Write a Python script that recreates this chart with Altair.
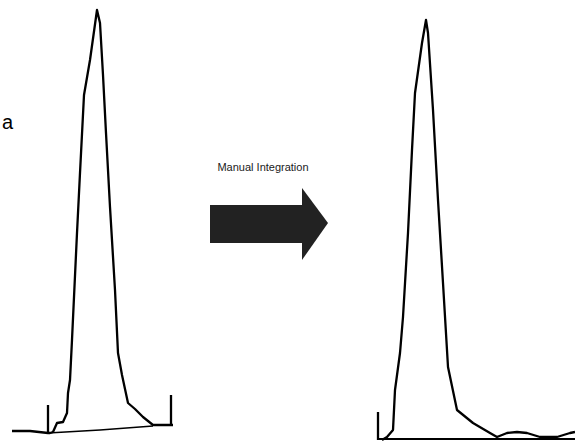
import altair as alt
import pandas as pd

W, H = 575, 441

# Left chromatogram (time, signal); signal = 441 - pixel row
left_time = [12, 30, 48, 50, 53, 57, 63, 67, 68, 70, 72, 77, 80, 84, 90, 97, 100, 103, 106, 110, 115, 118, 122, 128, 135, 143, 153, 173]
left_signal = [10, 10, 8, 8, 9, 18, 19, 28, 48, 61, 101, 208, 268, 346, 381, 431, 418, 366, 308, 234, 151, 88, 66, 38, 32, 24, 16, 16]
left_base_time = [48, 100, 153]
left_base_signal = [8, 11, 15]
left_tick_time = [48, 171]
left_tick_low = [8, 16]
left_tick_high = [36, 46]

# Right chromatogram
right_time = [382, 387, 393, 395, 400, 403, 408, 412, 415, 422, 426, 428, 433, 438, 443, 448, 457, 473, 490, 497, 507, 517, 527, 540, 557, 570, 575]
right_signal = [1, 4, 11, 51, 88, 124, 208, 291, 348, 398, 421, 408, 331, 241, 158, 74, 31, 18, 8, 4, 8, 9, 8, 4, 4, 8, 9]
right_base_time = [378, 575]
right_base_signal = [2, 2]
right_tick_time = [378]
right_tick_low = [1]
right_tick_high = [29]

# Arrow: body rectangle and triangular head
arrow_body_x = [210]
arrow_body_x2 = [302]
arrow_body_lo = [198]
arrow_body_hi = [236]
arrow_head_x = [302, 328]
arrow_head_lo = [181, 218]
arrow_head_hi = [253, 218]

label_text = ["a", "Manual Integration"]
label_x = [2, 263]
label_y = [312, 273]
label_size = [20, 11]

xs = alt.Scale(domain=[0, W], range=[0, W], nice=False, zero=False)
ys = alt.Scale(domain=[0, H], range=[H, 0], nice=False, zero=False)


def trace(t, s, width):
    df = pd.DataFrame({"t": t, "s": s, "i": range(len(t))})
    return alt.Chart(df).mark_line(color="black", strokeWidth=width, strokeJoin="round").encode(
        x=alt.X("t:Q", scale=xs, axis=None),
        y=alt.Y("s:Q", scale=ys, axis=None),
        order="i:Q",
    )


def ticks(t, lo, hi, width):
    df = pd.DataFrame({"t": t, "lo": lo, "hi": hi})
    return alt.Chart(df).mark_rule(color="black", strokeWidth=width).encode(
        x=alt.X("t:Q", scale=xs, axis=None),
        y=alt.Y("lo:Q", scale=ys, axis=None),
        y2="hi:Q",
    )


body_df = pd.DataFrame({"x": arrow_body_x, "x2": arrow_body_x2, "lo": arrow_body_lo, "hi": arrow_body_hi})
arrow_body = alt.Chart(body_df).mark_rect(color="#222222").encode(
    x=alt.X("x:Q", scale=xs, axis=None),
    x2="x2:Q",
    y=alt.Y("lo:Q", scale=ys, axis=None),
    y2="hi:Q",
)
head_df = pd.DataFrame({"x": arrow_head_x, "lo": arrow_head_lo, "hi": arrow_head_hi})
arrow_head = alt.Chart(head_df).mark_area(color="#222222").encode(
    x=alt.X("x:Q", scale=xs, axis=None),
    y=alt.Y("lo:Q", scale=ys, axis=None),
    y2="hi:Q",
)

lab_a = alt.Chart(pd.DataFrame({"x": [label_x[0]], "y": [label_y[0]], "txt": [label_text[0]]})).mark_text(
    align="left", baseline="alphabetic", fontSize=label_size[0], font="Liberation Sans", color="black"
).encode(x=alt.X("x:Q", scale=xs, axis=None), y=alt.Y("y:Q", scale=ys, axis=None), text="txt:N")

lab_m = alt.Chart(pd.DataFrame({"x": [label_x[1]], "y": [label_y[1]], "txt": [label_text[1]]})).mark_text(
    align="center", baseline="middle", fontSize=label_size[1], font="Liberation Sans", color="#1a1a1a"
).encode(x=alt.X("x:Q", scale=xs, axis=None), y=alt.Y("y:Q", scale=ys, axis=None), text="txt:N")

chart = alt.layer(
    trace(left_base_time, left_base_signal, 1.6),
    trace(left_time, left_signal, 2.3),
    ticks(left_tick_time, left_tick_low, left_tick_high, 2.3),
    trace(right_base_time, right_base_signal, 2),
    trace(right_time, right_signal, 2.3),
    ticks(right_tick_time, right_tick_low, right_tick_high, 2.3),
    arrow_body,
    arrow_head,
    lab_a,
    lab_m,
).properties(width=W, height=H, padding=0, autosize="none", background="white").configure_view(stroke=None)

chart.save("out.html", embed_options={"renderer": "svg", "actions": False})
